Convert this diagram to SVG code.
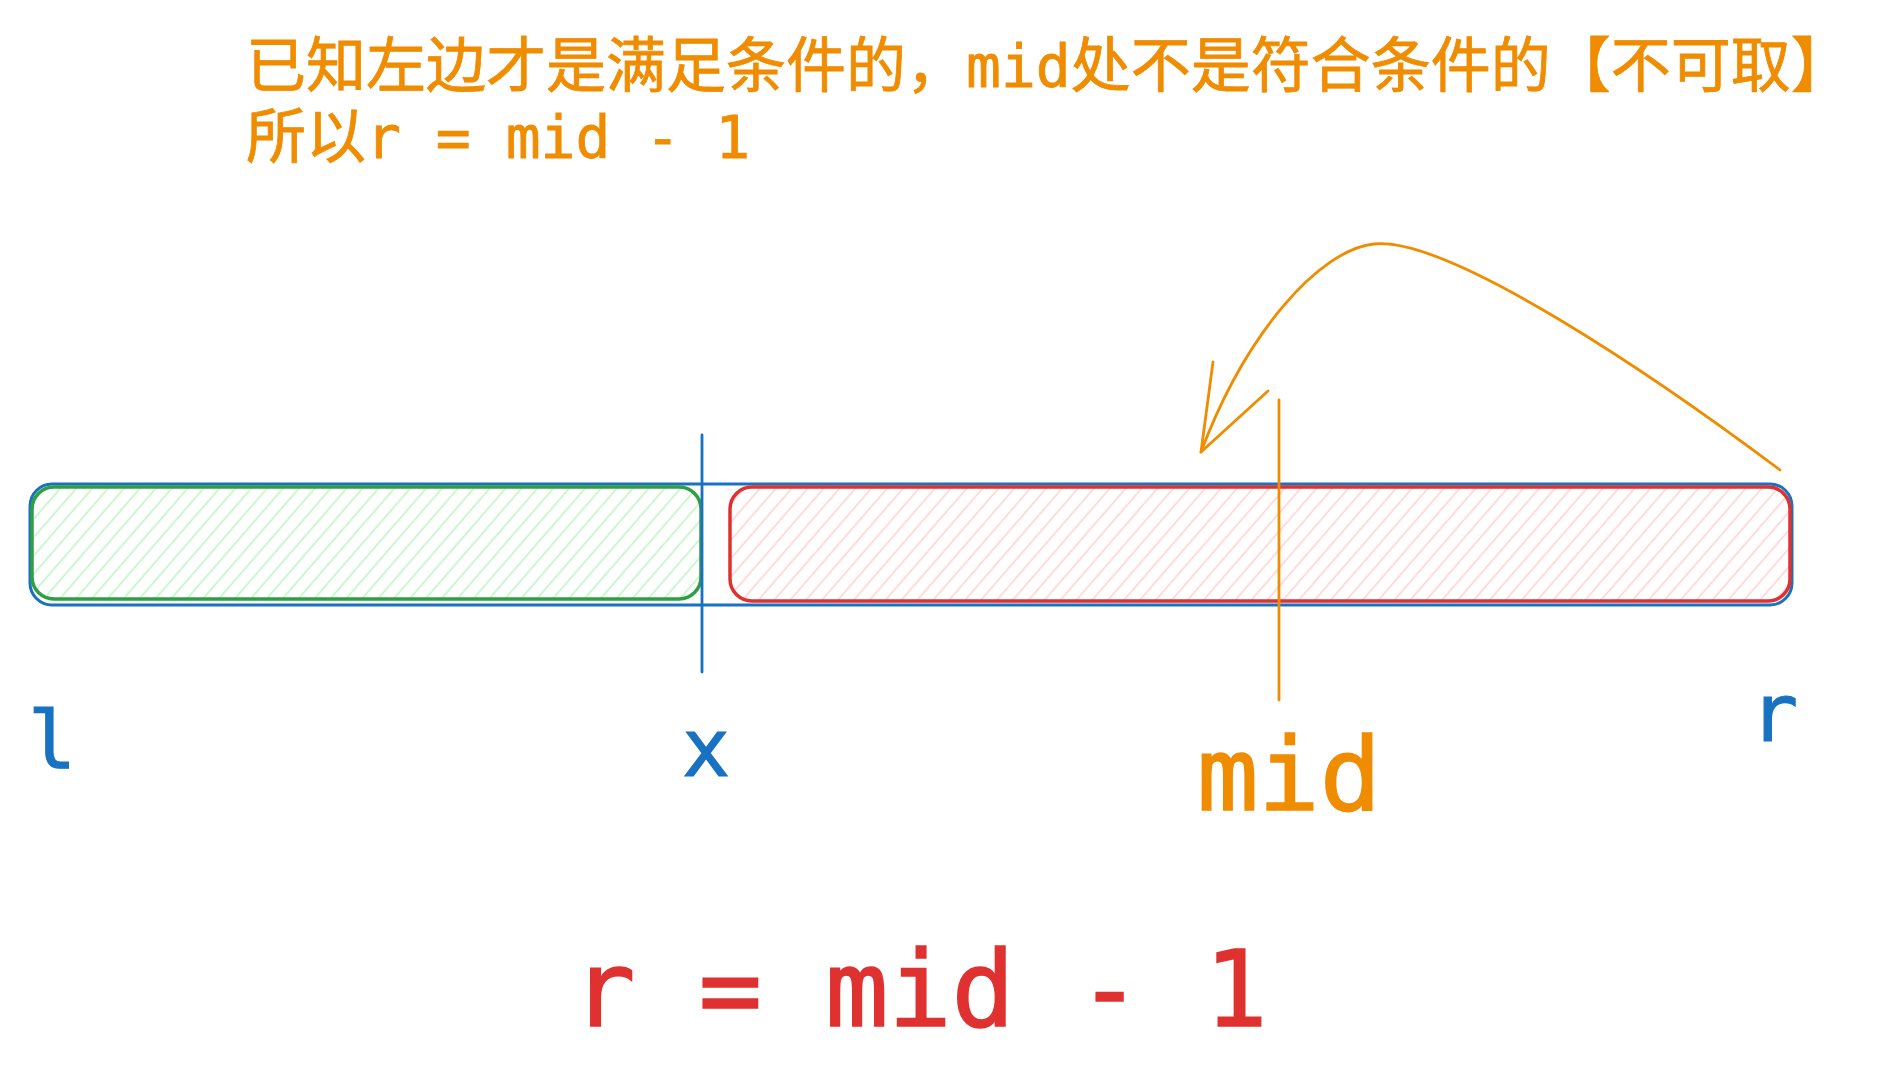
<svg xmlns="http://www.w3.org/2000/svg" width="1881" height="1083" viewBox="0 0 1881 1083">
<style>
.mono{font-family:"DejaVu Sans Mono","Liberation Mono","Noto Sans CJK SC",monospace}
.title{font-family:"DejaVu Sans Mono","Noto Sans CJK SC",monospace;font-size:60px;fill:#f08c00;stroke:#f08c00;stroke-width:0.8}
.title .m{font-size:58px}
.blue{fill:#1971c2;stroke:#1971c2;stroke-width:1.2}
.orange{fill:#f08c00;stroke:#f08c00;stroke-width:1.5}
.red{fill:#e03131;stroke:#e03131;stroke-width:1.6}
.ln{fill:none;stroke-width:2.8;stroke-linecap:round;stroke-linejoin:round}
</style>
<defs>
<pattern id="hg" width="12" height="12" patternUnits="userSpaceOnUse" patternTransform="rotate(41)">
<line x1="6" y1="-2" x2="6" y2="14" stroke="#b2f2bb" stroke-width="1.3"/>
</pattern>
<pattern id="hr" width="12" height="12" patternUnits="userSpaceOnUse" patternTransform="rotate(41)">
<line x1="6" y1="-2" x2="6" y2="14" stroke="#ffc9c9" stroke-width="1.3"/>
</pattern>
</defs>
<rect width="1881" height="1083" fill="#ffffff"/>

<g id="title">
<text class="title" x="246" y="87">已知左边才是满足条件的，<tspan class="m">mid</tspan>处不是符合条件的【不可取】</text>
<text class="title" x="246" y="158">所以<tspan class="m">r = mid - 1</tspan></text>
</g>

<g id="range">
<rect x="30" y="484" width="1762" height="121" rx="22" ry="22" fill="none" stroke="#1971c2" stroke-width="3"/>
</g>
<g id="left-ok">
<rect x="32" y="487" width="669" height="112" rx="22" ry="22" fill="url(#hg)" stroke="#2f9e44" stroke-width="3.5"/>
</g>
<g id="right-bad">
<rect x="730" y="487" width="1060" height="114" rx="22" ry="22" fill="url(#hr)" stroke="#e03131" stroke-width="3.5"/>
</g>
<g id="x-mark">
<line x1="702" y1="435" x2="702" y2="672" class="ln" stroke="#1971c2"/>
</g>
<g id="mid-mark">
<line x1="1279" y1="400" x2="1279" y2="700" class="ln" stroke="#f08c00"/>
</g>

<g id="label-l"><text class="mono blue" x="52" y="768" font-size="80" text-anchor="middle">l</text></g>
<g id="label-x"><text class="mono blue" x="706" y="776" font-size="80" text-anchor="middle">x</text></g>
<g id="label-r"><text class="mono blue" x="1774" y="741" font-size="80" text-anchor="middle">r</text></g>
<g id="label-mid"><text class="mono orange" x="1289" y="810" font-size="102" text-anchor="middle">mid</text></g>
<g id="formula"><text class="mono red" x="920" y="1026" font-size="105" text-anchor="middle">r = mid - 1</text></g>

<g id="connectors">
<path class="ln" stroke="#f08c00" d="M1780,470 C1660,380 1450,236 1374,244 C1318,250 1245,335 1201,452"/>
<path class="ln" stroke="#f08c00" d="M1213,362 L1201,452 L1268,391"/>
</g>
</svg>
